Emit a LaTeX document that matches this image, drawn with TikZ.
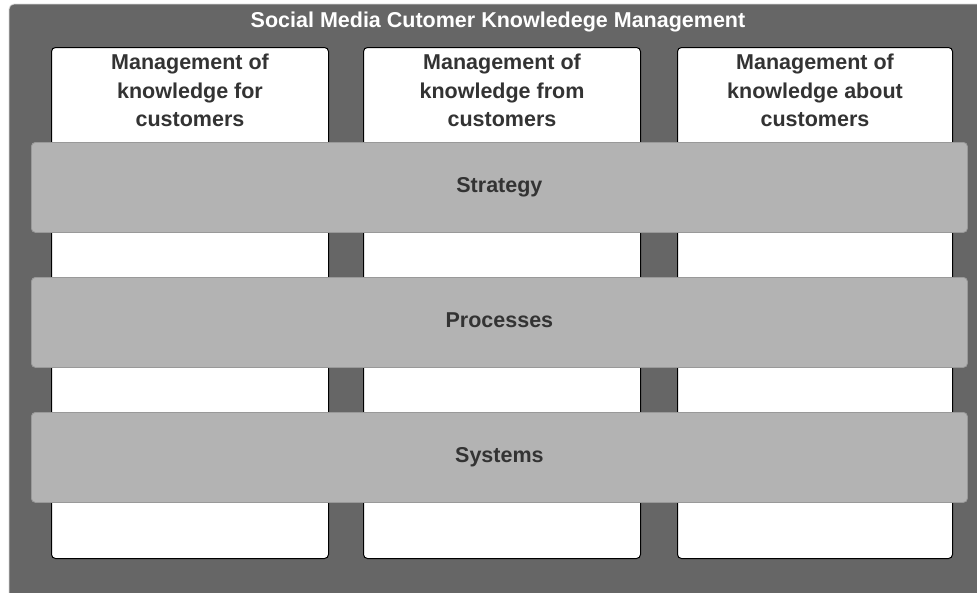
\documentclass[tikz,border=0pt]{standalone}
\usepackage{fontspec}
\setmainfont{Liberation Sans}
\begin{document}
\begin{tikzpicture}[x=1pt,y=-1pt,
  outerbox/.style={fill=outergray,draw=none,rounded corners=5pt},
  colbox/.style={draw=black,line width=1pt,fill=white,rounded corners=4pt,
    minimum width=277pt,minimum height=511pt,anchor=north west,inner sep=0pt},
  coltext/.style={text=textgray,align=center,anchor=north,inner sep=0pt,
    font=\bfseries\fontsize{21.5}{28.5}\selectfont},
  barbox/.style={draw=bargrayedge,line width=0.8pt,fill=bargray,rounded corners=4pt,
    minimum width=936pt,minimum height=90pt,anchor=north west,inner sep=0pt,
    text=textgray,font=\bfseries\fontsize{21.5}{26}\selectfont},
  titletext/.style={text=white,inner sep=0pt,anchor=base,
    font=\bfseries\fontsize{21.5}{26}\selectfont}]
\definecolor{outergray}{HTML}{666666}
\definecolor{bargray}{HTML}{B3B3B3}
\definecolor{bargrayedge}{HTML}{999999}
\definecolor{textgray}{HTML}{333333}
\useasboundingbox (0,0) rectangle (977,592);
\begin{scope}
\clip (0,0) rectangle (977,592);
\draw[draw=black!15,line width=0.8pt,fill=outergray,rounded corners=5pt] (9,4) rectangle (1000,620);
\end{scope}
\node[titletext] (title) at (498,27) {Social Media Cutomer Knowledege Management};
\node[colbox] (c1) at (51,47) {};
\node[colbox] (c2) at (363,47) {};
\node[colbox,minimum width=275pt] (c3) at (677,47) {};
\node[coltext] (t1) at ([yshift=-7pt]c1.north) {Management of\\knowledge for\\customers};
\node[coltext] (t2) at ([yshift=-7pt]c2.north) {Management of\\knowledge from\\customers};
\node[coltext] (t3) at ([yshift=-7pt]c3.north) {Management of\\knowledge about\\customers};
\node[barbox] (b1) at (31,142) {};
\node[barbox] (b2) at (31,277) {};
\node[barbox] (b3) at (31,412) {};
\node[text=textgray,font=\bfseries\fontsize{21.5}{26}\selectfont,inner sep=0pt,anchor=base] (s1) at ([yshift=-5pt]b1.center) {Strategy};
\node[text=textgray,font=\bfseries\fontsize{21.5}{26}\selectfont,inner sep=0pt,anchor=base] (s2) at ([yshift=-5pt]b2.center) {Processes};
\node[text=textgray,font=\bfseries\fontsize{21.5}{26}\selectfont,inner sep=0pt,anchor=base] (s3) at ([yshift=-5pt]b3.center) {Systems};
\end{tikzpicture}
\end{document}
